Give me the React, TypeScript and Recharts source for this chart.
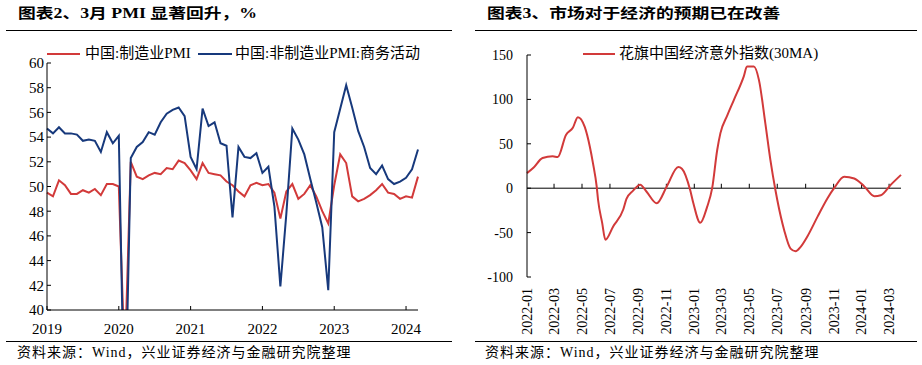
import { LineChart, Line, XAxis, YAxis, ReferenceLine } from "recharts"

// left chart: monthly PMI
const pmiMonths = [
  "2019-01", "2019-02", "2019-03", "2019-04", "2019-05", "2019-06", "2019-07", "2019-08", "2019-09", "2019-10", "2019-11", "2019-12",
  "2020-01", "2020-02", "2020-03", "2020-04", "2020-05", "2020-06", "2020-07", "2020-08", "2020-09", "2020-10", "2020-11", "2020-12",
  "2021-01", "2021-02", "2021-03", "2021-04", "2021-05", "2021-06", "2021-07", "2021-08", "2021-09", "2021-10", "2021-11", "2021-12",
  "2022-01", "2022-02", "2022-03", "2022-04", "2022-05", "2022-06", "2022-07", "2022-08", "2022-09", "2022-10", "2022-11", "2022-12",
  "2023-01", "2023-02", "2023-03", "2023-04", "2023-05", "2023-06", "2023-07", "2023-08", "2023-09", "2023-10", "2023-11", "2023-12",
  "2024-01", "2024-02", "2024-03",
]
const mfgPmi = [
  49.5, 49.2, 50.5, 50.1, 49.4, 49.4, 49.7, 49.5, 49.8, 49.3, 50.2, 50.2,
  50.0, 35.7, 52.0, 50.8, 50.6, 50.9, 51.1, 51.0, 51.5, 51.4, 52.1, 51.9,
  51.3, 50.6, 51.9, 51.1, 51.0, 50.9, 50.4, 50.1, 49.6, 49.2, 50.1, 50.3,
  50.1, 50.2, 49.5, 47.4, 49.6, 50.2, 49.0, 49.4, 50.1, 49.2, 48.0, 47.0,
  50.1, 52.6, 51.9, 49.2, 48.8, 49.0, 49.3, 49.7, 50.2, 49.5, 49.4, 49.0,
  49.2, 49.1, 50.8,
]
const nonMfgPmi = [
  54.7, 54.3, 54.8, 54.3, 54.3, 54.2, 53.7, 53.8, 53.7, 52.8, 54.4, 53.5,
  54.1, 29.6, 52.3, 53.2, 53.6, 54.4, 54.2, 55.2, 55.9, 56.2, 56.4, 55.7,
  52.4, 51.4, 56.3, 54.9, 55.2, 53.5, 53.3, 47.5, 53.2, 52.4, 52.3, 52.7,
  51.1, 51.6, 48.4, 41.9, 47.8, 54.7, 53.8, 52.6, 50.6, 48.7, 46.7, 41.6,
  54.4, 56.3, 58.2, 56.4, 54.5, 53.2, 51.5, 51.0, 51.7, 50.6, 50.2, 50.4,
  50.7, 51.4, 53.0,
]
const pmiYearTicks = ["2019-01", "2020-01", "2021-01", "2022-01", "2023-01", "2024-01"]
const pmiYearLabels = ["2019", "2020", "2021", "2022", "2023", "2024"]
const pmiYTicks = [40, 42, 44, 46, 48, 50, 52, 54, 56, 58, 60]

// right chart: Citi surprise index, 30MA
const citiDates = [
  "2022-01-01", "2022-01-15", "2022-02-04", "2022-02-26", "2022-03-09", "2022-03-27", "2022-04-11", "2022-04-22",
  "2022-05-07", "2022-05-18", "2022-05-25", "2022-06-02", "2022-06-05", "2022-06-14", "2022-06-21", "2022-07-08",
  "2022-07-30", "2022-08-06", "2022-08-20", "2022-09-05", "2022-09-19", "2022-10-11", "2022-11-02", "2022-11-27",
  "2022-12-05", "2022-12-23", "2022-12-30", "2023-01-14", "2023-01-29", "2023-02-09", "2023-02-20", "2023-02-27",
  "2023-03-14", "2023-03-28", "2023-04-19", "2023-04-26", "2023-05-11", "2023-05-22", "2023-06-05", "2023-06-16",
  "2023-06-27", "2023-07-01", "2023-07-16", "2023-07-30", "2023-08-10", "2023-08-21", "2023-09-05", "2023-09-27",
  "2023-10-19", "2023-11-02", "2023-11-24", "2023-12-16", "2024-01-07", "2024-01-29", "2024-02-12", "2024-03-05",
  "2024-03-27",
]
const citiValues = [
  17, 23, 34, 36, 35, 60, 68, 80,
  69, 47, 28, 2, -13, -39, -58, -43,
  -24, -12, -3, 4, -4, -17, 2, 24,
  22, -2, -17, -39, -21, 0, 43, 62,
  82, 99, 126, 137, 137, 122, 73, 32,
  -2, -13, -47, -68, -71, -66, -54, -32,
  -11, 0, 13, 11, 2, -9, -8, 4,
  15,
]
const citiTicks = [
  "2022-01-01", "2022-03-01", "2022-05-01", "2022-07-01", "2022-09-01", "2022-11-01",
  "2023-01-01", "2023-03-01", "2023-05-01", "2023-07-01", "2023-09-01", "2023-11-01",
  "2024-01-01", "2024-03-01",
]
const citiYTicks = [-100, -50, 0, 50, 100, 150]

const RED = "#D23A3A"
const BLUE = "#17397C"
const SERIF = "'Liberation Serif', 'Times New Roman', 'Noto Sans CJK SC', serif"

const monthIdx = (s: string) => (+s.slice(0, 4) - 2019) * 12 + (+s.slice(5, 7) - 1)
const dayOf = (s: string) =>
  (Date.UTC(+s.slice(0, 4), +s.slice(5, 7) - 1, +s.slice(8, 10)) - Date.UTC(2022, 0, 1)) / 86400000

const pmiData = pmiMonths.map((m, i) => ({ x: monthIdx(m), mfg: mfgPmi[i], nonMfg: nonMfgPmi[i] }))
const pmiTickIdx = pmiYearTicks.map(monthIdx)
const citiData = citiDates.map((d, i) => ({ x: dayOf(d), v: citiValues[i] }))
const citiTickDays = citiTicks.map(dayOf)

const RotatedTick = (props: any) => {
  const { x, y, payload } = props
  const label = citiTicks[citiTickDays.indexOf(payload.value)].slice(0, 7)
  return (
    <text x={x} y={y} dy="0.35em" transform={`rotate(-90, ${x}, ${y})`} textAnchor="end"
      fontSize={14} fontFamily={SERIF} fill="#000">
      {label}
    </text>
  )
}

const abs = (style: any) => ({ position: "absolute" as const, ...style })

export default function App() {
  const tickStyle = { fill: "#000", fontFamily: SERIF }
  return (
    <div style={abs({ left: 0, top: 0, width: 922, height: 365, background: "#fff", overflow: "hidden" })}>
      {/* titles */}
      <div style={abs({ left: 18, top: 7, fontSize: 14, lineHeight: "14px", fontWeight: 700, fontFamily: SERIF,
        whiteSpace: "nowrap", transform: "scaleX(1.27)", transformOrigin: "left top" })}>
        图表2、3月 PMI 显著回升，%
      </div>
      <div style={abs({ left: 487, top: 7, fontSize: 14, lineHeight: "14px", fontWeight: 700, fontFamily: SERIF,
        whiteSpace: "nowrap", transform: "scaleX(1.27)", transformOrigin: "left top" })}>
        图表3、市场对于经济的预期已在改善
      </div>
      <div style={abs({ left: 6, top: 30, width: 446, height: 1, background: "#000" })} />
      <div style={abs({ left: 475, top: 30, width: 442, height: 1, background: "#000" })} />

      {/* left chart */}
      <div style={abs({ left: 0, top: 0 })}>
        <LineChart width={460} height={365} data={pmiData} margin={{ top: 63, right: 42, bottom: 25, left: 0 }}>
          <XAxis dataKey="x" type="number" domain={[0, 62]} ticks={pmiTickIdx} interval={0}
            tickFormatter={(v: number) => pmiYearLabels[pmiTickIdx.indexOf(v)]}
            height={30} tickSize={-4} tickMargin={17} stroke="#000" tick={{ ...tickStyle, fontSize: 15 }} />
          <YAxis domain={[40, 60]} ticks={pmiYTicks} allowDataOverflow interval={0} width={47}
            tickSize={-4} tickMargin={7} stroke="#000" tick={{ ...tickStyle, fontSize: 15 }} />
          <Line dataKey="mfg" stroke={RED} strokeWidth={2} dot={false} type="linear" isAnimationActive={false} />
          <Line dataKey="nonMfg" stroke={BLUE} strokeWidth={2} dot={false} type="linear" isAnimationActive={false} />
        </LineChart>
      </div>
      <div style={abs({ left: 47, top: 53, width: 33, height: 2, background: RED })} />
      <div style={abs({ left: 85, top: 45, fontSize: 15, lineHeight: "16px", fontFamily: SERIF, whiteSpace: "nowrap" })}>
        中国:制造业PMI
      </div>
      <div style={abs({ left: 198, top: 53, width: 34, height: 2, background: BLUE })} />
      <div style={abs({ left: 235, top: 45, fontSize: 15, lineHeight: "16px", fontFamily: SERIF, whiteSpace: "nowrap" })}>
        中国:非制造业PMI:商务活动
      </div>

      {/* right chart */}
      <div style={abs({ left: 460, top: 0 })}>
        <LineChart width={462} height={365} data={citiData} margin={{ top: 55, right: 21, bottom: 28, left: 0 }}>
          <XAxis dataKey="x" type="number" domain={[0, dayOf(citiDates[citiDates.length - 1])]} ticks={citiTickDays}
            interval={0} height={60} tickSize={0} tickMargin={11} axisLine={false} tickLine={false}
            tick={<RotatedTick />} />
          <YAxis domain={[-100, 150]} ticks={citiYTicks} interval={0} width={67}
            tickSize={-4} tickMargin={18} stroke="#000" tick={{ ...tickStyle, fontSize: 14 }} />
          <ReferenceLine y={0} stroke="#000" strokeWidth={1} />
          {citiTickDays.slice(1).map((d) => (
            <ReferenceLine key={d} segment={[{ x: d, y: 0 }, { x: d, y: 5 }]} stroke="#000" strokeWidth={1} />
          ))}
          <Line dataKey="v" stroke={RED} strokeWidth={2} dot={false} type="monotone" isAnimationActive={false} />
        </LineChart>
      </div>
      <div style={abs({ left: 583, top: 53, width: 32, height: 2, background: RED })} />
      <div style={abs({ left: 619, top: 45, fontSize: 15, lineHeight: "16px", fontFamily: SERIF, whiteSpace: "nowrap" })}>
        花旗中国经济意外指数(30MA)
      </div>

      {/* source notes */}
      <div style={abs({ left: 6, top: 341, width: 446, height: 1, background: "#000" })} />
      <div style={abs({ left: 475, top: 341, width: 442, height: 1, background: "#000" })} />
      <div style={abs({ left: 17, top: 346, fontSize: 14, lineHeight: "14px", letterSpacing: 1, fontFamily: SERIF, whiteSpace: "nowrap" })}>
        资料来源：Wind，兴业证券经济与金融研究院整理
      </div>
      <div style={abs({ left: 485, top: 346, fontSize: 14, lineHeight: "14px", letterSpacing: 1, fontFamily: SERIF, whiteSpace: "nowrap" })}>
        资料来源：Wind，兴业证券经济与金融研究院整理
      </div>
    </div>
  )
}
